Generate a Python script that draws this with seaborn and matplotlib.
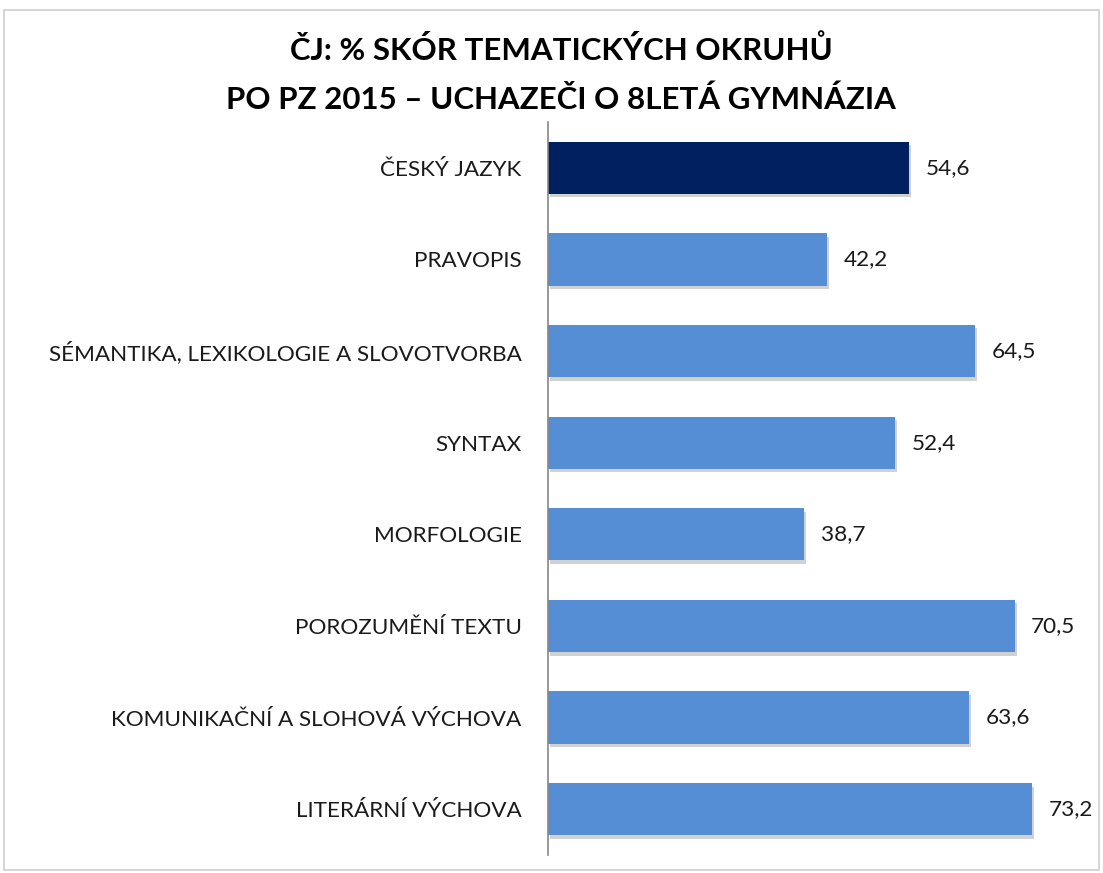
import pandas as pd
import seaborn as sns
import matplotlib.pyplot as plt
import matplotlib.patheffects as pe
from matplotlib.patches import Rectangle

# data
categories = [
    "ČESKÝ JAZYK",
    "PRAVOPIS",
    "SÉMANTIKA, LEXIKOLOGIE A SLOVOTVORBA",
    "SYNTAX",
    "MORFOLOGIE",
    "POROZUMĚNÍ TEXTU",
    "KOMUNIKAČNÍ A SLOHOVÁ VÝCHOVA",
    "LITERÁRNÍ VÝCHOVA",
]
values = [54.6, 42.2, 64.5, 52.4, 38.7, 70.5, 63.6, 73.2]
groups = ["celkem", "okruh", "okruh", "okruh", "okruh", "okruh", "okruh", "okruh"]

df = pd.DataFrame({"okruh": categories, "skore": values, "skupina": groups})

sns.set_style("white")
plt.rcParams["font.family"] = ["Lato", "DejaVu Sans"]

fig = plt.figure(figsize=(11.03, 8.73), dpi=100)
ax = fig.add_axes([0.4968, 0.0206, 0.48, 0.8396])

sns.barplot(
    data=df, y="okruh", x="skore", hue="skupina",
    palette={"celkem": "#002060", "okruh": "#558ED5"}, saturation=1,
    width=0.57, dodge=False, legend=False, ax=ax, orient="h",
)

# jemny stin pod sloupci
for bar in ax.patches:
    bar.set_linewidth(0)
    bar.set_path_effects([
        pe.SimplePatchShadow(offset=(1.5, -2.5), shadow_rgbFace="#000000", alpha=0.18),
        pe.Normal(),
    ])

# popisky hodnot
for i, v in enumerate(values):
    ax.text(v + 2.5, i, f"{v:.1f}".replace(".", ","), va="center", ha="left",
            fontsize=16.2, color="#1a1a1a")

ax.set_xlim(0, 80)
ax.set_ylim(7.5, -0.5)
ax.set_xlabel("")
ax.set_ylabel("")
ax.set_xticks([])
ax.tick_params(axis="y", length=0, pad=19, labelsize=16.2, labelcolor="#1a1a1a")
for s in ["top", "right", "bottom"]:
    ax.spines[s].set_visible(False)
ax.spines["left"].set_color("#868686")
ax.spines["left"].set_linewidth(1.2)

fig.text(0.509, 0.943, "ČJ: % SKÓR TEMATICKÝCH OKRUHŮ", ha="center", va="center",
         fontsize=22.5, fontweight="bold", color="black")
fig.text(0.509, 0.886, "PO PZ 2015 – UCHAZEČI O 8LETÁ GYMNÁZIA", ha="center", va="center",
         fontsize=22.5, fontweight="bold", color="black")

# ramecek grafu
fig.patches.append(Rectangle((0.004, 0.004), 0.992, 0.985, transform=fig.transFigure,
                             fill=False, edgecolor="#d0d0d0", linewidth=1.2))

fig.savefig("out.png", dpi=100)
